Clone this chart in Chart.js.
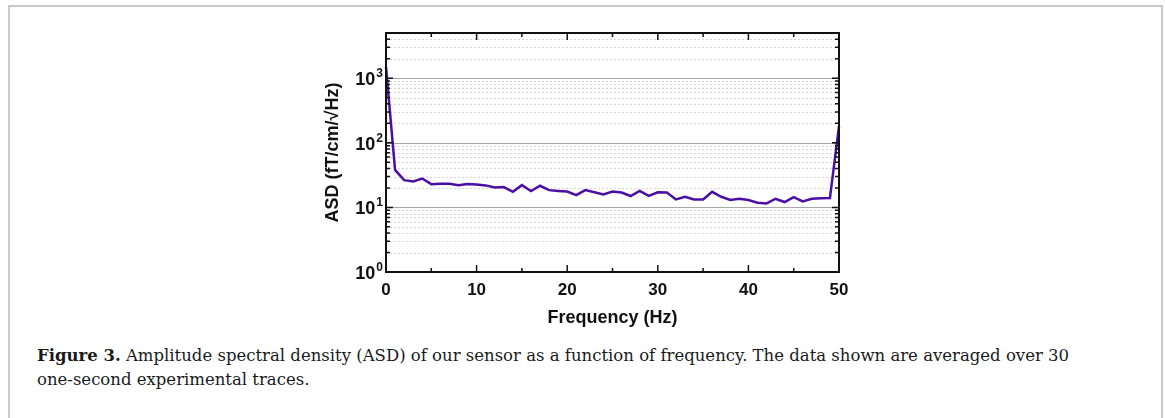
<!DOCTYPE html>
<html>
<head>
<meta charset="utf-8">
<script src="https://cdn.jsdelivr.net/npm/chart.js@4"></script>
<style>
    html, body { margin: 0; padding: 0; background: #fff; }
    body { width: 1165px; height: 418px; position: relative; overflow: hidden; }
    .frame {
        position: absolute; left: 8px; top: 5px; width: 1151px; height: 430px;
        border-left: 2px solid #c8c8c8; border-top: 2px solid #c8c8c8; border-right: 2px solid #c8c8c8;
    }
    #chart-wrap { position: absolute; left: 0; top: 0; width: 1165px; height: 340px; }
    .caption {
        position: absolute; left: 37px; top: 344px; width: 1110px; white-space: nowrap;
        font-family: "DejaVu Serif", "Liberation Serif", serif; font-size: 16.5px; line-height: 24px; color: #1a1a1a;
    }
    .caption b { font-weight: bold; }
</style>
</head>
<body>
<div class="frame"></div>
<div id="chart-wrap"><canvas id="asd"></canvas></div>
<div class="caption"><b>Figure 3.</b> Amplitude spectral density (ASD) of our sensor as a function of frequency. The data shown are averaged over 30<br>one-second experimental traces.</div>
<script>
const frequencies = [
    0, 1, 2, 3, 4, 5, 6, 7, 8, 9, 10, 11, 12, 13, 14, 15, 16, 17, 18, 19, 20, 21, 22, 23, 24, 25,
    26, 27, 28, 29, 30, 31, 32, 33, 34, 35, 36, 37, 38, 39, 40, 41, 42, 43, 44, 45, 46, 47, 48, 49, 50,
];
const asdValues = [
    1500, 38, 26.4, 25.2, 28, 22.9, 23.2, 23.2, 22.1, 23, 22.7, 21.9, 20.4, 20.6, 17.4, 22.1, 17.9,
    21.6, 18.5, 18, 17.6, 15.5, 18.5, 17.1, 15.9, 17.6, 17, 15, 18, 15.1, 17.1, 17, 13.3, 14.6, 13.3,
    13.3, 17.4, 14.6, 13, 13.6, 13, 11.8, 11.5, 13.6, 12.1, 14.4, 12.4, 13.6, 13.8, 14, 180,
];
const xTickLabels = [0, 10, 20, 30, 40, 50];
const yDecades = [1, 10, 100, 1000];
const yMinorSteps = [2, 3, 4, 5, 6, 7, 8, 9];

const lineColor = "#4b0fa8";
const sansFont = "Arial, 'Liberation Sans', sans-serif";

// every major and minor y position below the axis max
const yGridValues = (max) => {
    const vals = [];
    yDecades.forEach((d) => {
        vals.push({ v: d, major: true });
        yMinorSteps.forEach((m) => {
            if (d * m < max) vals.push({ v: d * m, major: false });
        });
    });
    return vals;
};

// grid lines, inward ticks, frame and all axis text
const axesPlugin = {
    id: "axesPlugin",
    beforeDatasetsDraw(chart) {
        const { ctx, chartArea: area, scales } = chart;
        const y = scales.y;
        ctx.save();
        yGridValues(y.max).forEach(({ v, major }) => {
            if (v === y.min) return;
            const py = Math.round(y.getPixelForValue(v)) + 0.5;
            ctx.beginPath();
            ctx.strokeStyle = major ? "#a8a8a8" : "#d6d6d6";
            ctx.lineWidth = 1;
            ctx.setLineDash(major ? [] : [2, 2]);
            ctx.moveTo(area.left, py);
            ctx.lineTo(area.right, py);
            ctx.stroke();
        });
        ctx.restore();
    },
    afterDatasetsDraw(chart) {
        const { ctx, chartArea: area, scales } = chart;
        const x = scales.x;
        const y = scales.y;
        ctx.save();
        ctx.strokeStyle = "#111";
        ctx.lineWidth = 1.5;
        ctx.setLineDash([]);

        // x ticks, top and bottom, pointing inward
        for (let v = x.min; v <= x.max; v += 5) {
            const px = x.getPixelForValue(v);
            const len = v % 10 === 0 ? 7 : 4;
            ctx.beginPath();
            ctx.moveTo(px, area.bottom);
            ctx.lineTo(px, area.bottom - len);
            ctx.moveTo(px, area.top);
            ctx.lineTo(px, area.top + len);
            ctx.stroke();
        }

        // y ticks, both sides
        yGridValues(y.max).forEach(({ v, major }) => {
            const py = y.getPixelForValue(v);
            const len = major ? 7 : 4;
            ctx.beginPath();
            ctx.moveTo(area.left, py);
            ctx.lineTo(area.left + len, py);
            ctx.moveTo(area.right, py);
            ctx.lineTo(area.right - len, py);
            ctx.stroke();
        });

        // frame
        ctx.lineWidth = 2;
        ctx.strokeRect(area.left, area.top, area.right - area.left, area.bottom - area.top);

        // x tick labels
        ctx.fillStyle = "#111";
        ctx.font = "bold 17px " + sansFont;
        ctx.textAlign = "center";
        ctx.textBaseline = "top";
        xTickLabels.forEach((v) => {
            ctx.fillText(String(v), x.getPixelForValue(v), area.bottom + 10);
        });

        // y tick labels 10^n
        yDecades.forEach((v, i) => {
            const py = y.getPixelForValue(v);
            ctx.font = "bold 12px " + sansFont;
            const expW = ctx.measureText(String(i)).width;
            ctx.textAlign = "right";
            ctx.textBaseline = "alphabetic";
            ctx.fillText(String(i), area.left - 3, py - 1);
            ctx.font = "bold 18px " + sansFont;
            ctx.fillText("10", area.left - 4 - expW, py + 7);
        });

        // axis titles
        ctx.font = "bold 18px " + sansFont;
        ctx.textAlign = "center";
        ctx.textBaseline = "middle";
        ctx.fillText("Frequency (Hz)", (area.left + area.right) / 2, area.bottom + 46);
        ctx.translate(area.left - 53, (area.top + area.bottom) / 2);
        ctx.rotate(-Math.PI / 2);
        ctx.fillText("ASD (fT/cm/\u221AHz)", 0, 0);
        ctx.restore();
    },
};

const canvas = document.getElementById("asd");

new Chart(canvas, {
    type: "line",
    data: {
        datasets: [
            {
                data: frequencies.map((f, i) => ({ x: f, y: asdValues[i] })),
                borderColor: lineColor,
                borderWidth: 2.5,
                pointRadius: 0,
                tension: 0,
                clip: false,
            },
        ],
    },
    options: {
        responsive: true,
        maintainAspectRatio: false,
        animation: false,
        events: [],
        layout: {
            padding: { left: 386, right: 326, top: 33, bottom: 68 },
        },
        plugins: {
            legend: { display: false },
            tooltip: { enabled: false },
        },
        scales: {
            x: {
                type: "linear",
                display: false,
                min: 0,
                max: 50,
            },
            y: {
                type: "logarithmic",
                display: false,
                min: 1,
                max: 5000,
            },
        },
    },
    plugins: [axesPlugin],
});
</script>
</body>
</html>
